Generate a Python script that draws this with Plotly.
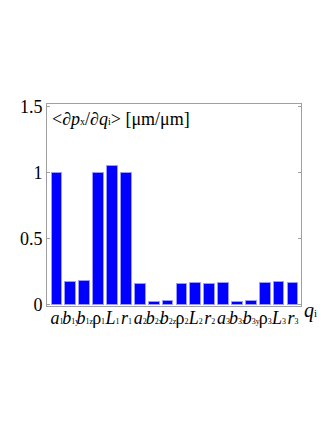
import plotly.graph_objects as go

# parameter names and mean sensitivities
names = ['a', 'b', 'b', 'ρ', 'L', 'r', 'a', 'b', 'b', 'ρ', 'L', 'r', 'a', 'b', 'b', 'ρ', 'L', 'r']
subs = ['1', '1y', '1z', '1', '1', '1', '2', '2x', '2z', '2', '2', '2', '3', '3x', '3y', '3', '3', '3']
sensitivity = [1.0, 0.17, 0.18, 1.0, 1.05, 1.0, 0.16, 0.02, 0.03, 0.16, 0.165, 0.16,
               0.165, 0.02, 0.025, 0.165, 0.175, 0.165]
y_ticks = [0, 0.5, 1, 1.5]
y_tick_labels = ['0', '0.5', '1', '1.5']

serif = 'Liberation Serif'
idx = list(range(len(names)))


def label(name, sub):
    base = name if name == 'ρ' else '<i>' + name + '</i>'
    return base + '<span style="font-size:8px">' + sub + '</span>'


fig = go.Figure()

fig.add_trace(go.Bar(
    x=idx,
    y=sensitivity,
    width=0.78,
    marker=dict(color='#0000FF', line=dict(color='#9999ff', width=1)),
    showlegend=False
))

# page body adds an 8px offset, so the figure is a bit smaller than the window
fig.update_layout(
    width=319, height=415,
    margin={"l": 39, "r": 26, "t": 96, "b": 117},
    paper_bgcolor='white',
    plot_bgcolor='white',
    font=dict(family=serif, color='black'),
    bargap=0,
    xaxis=dict(
        range=[-0.72, 17.58],
        tickmode='array', tickvals=idx, ticktext=[label(n, s) for n, s in zip(names, subs)],
        tickfont=dict(family=serif, size=18),
        ticks='', showgrid=False, zeroline=False,
        showline=True, linecolor='#a0a0a0', linewidth=1, mirror=True,
        tickangle=0, automargin=False, ticklabelstandoff=-5,
    ),
    yaxis=dict(
        range=[-0.01, 1.52],
        tickmode='array', tickvals=y_ticks, ticktext=y_tick_labels,
        tickfont=dict(family=serif, size=18),
        ticks='inside', ticklen=3, tickcolor='#a0a0a0',
        showgrid=False, zeroline=False, automargin=False,
        showline=True, linecolor='#a0a0a0', linewidth=1, mirror='ticks',
    ),
)

# axis annotation inside the plot and the x label at the right end
fig.add_annotation(
    xref='paper', yref='paper', x=0.01, y=0.985, xanchor='left', yanchor='top',
    text='<∂<i>p</i><span style="font-size:10px">x</span>/∂<i>q</i>'
         '<span style="font-size:10px">i</span>> [μm/μm]',
    showarrow=False, font=dict(family=serif, size=18)
)
fig.add_annotation(
    xref='paper', yref='paper', x=1.0, y=0.0, xanchor='left', yanchor='middle',
    text='<i>q</i><span style="font-size:11px">i</span>', xshift=1, yshift=-4,
    showarrow=False, font=dict(family=serif, size=20)
)

fig.write_html("out.html")
